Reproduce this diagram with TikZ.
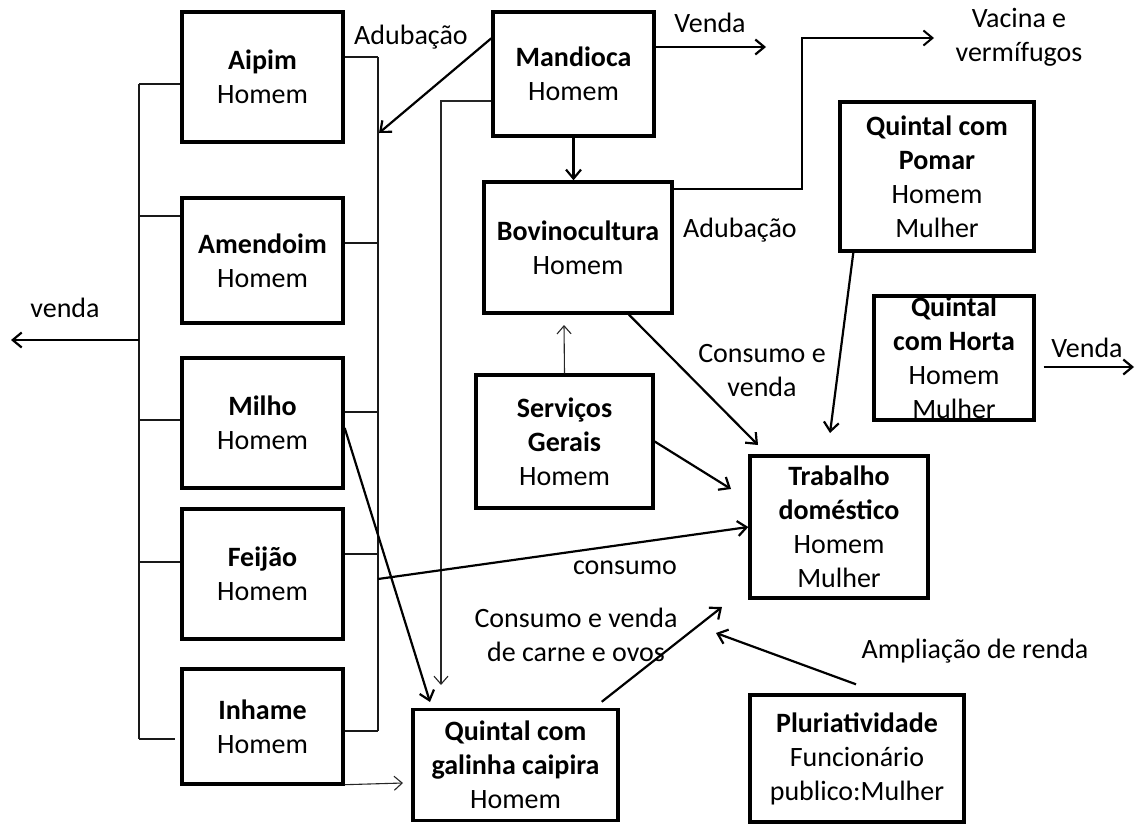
\documentclass[tikz,border=0pt]{standalone}
\usepackage{fontspec}
\setmainfont{Carlito}
\usetikzlibrary{arrows.meta,calc}
\tikzset{
  box/.style={draw, line width=3.4pt, inner sep=0pt, align=center,
    font=\fontsize{28}{34}\selectfont},
  txt/.style={inner sep=0pt, align=center, font=\fontsize{28}{34}\selectfont},
  arr/.style={line width=2.2pt, -{Straight Barb[length=9pt,width=15pt,line width=2.2pt]}},
  thinarr/.style={line width=1.1pt, draw=black!85, -{Straight Barb[length=8pt,width=14pt,line width=1.1pt]}},
  link/.style={line width=1.2pt, draw=black!90},
}
\begin{document}
\begin{tikzpicture}[x=1pt,y=-1pt]
\useasboundingbox (0,0) rectangle (1138,825);

% crop boxes on the left
\node[box, minimum width=161, minimum height=130] (aipim)    at (262.5,77)    {\textbf{Aipim}\\Homem};
\node[box, minimum width=161, minimum height=125] (amendoim) at (262.5,260.5)  {\textbf{Amendoim}\\Homem};
\node[box, minimum width=161, minimum height=130] (milho)    at (262.5,423)   {\textbf{Milho}\\Homem};
\node[box, minimum width=161, minimum height=130] (feijao)   at (262.5,574)   {\textbf{Feijão}\\Homem};
\node[box, minimum width=161, minimum height=115] (inhame)   at (262.5,726.5) {\textbf{Inhame}\\Homem};

% other activities
\node[box, minimum width=161, minimum height=124] (mandioca) at (573.5,74)   {\textbf{Mandioca}\\Homem};
\node[box, minimum width=188, minimum height=131] (bovino)   at (578,247.5)  {\textbf{Bovinocultura}\\Homem};
\node[box, minimum width=177, minimum height=133] (servicos) at (564.5,441.5) {\textbf{Serviços}\\\textbf{Gerais}\\Homem};
\node[box, minimum width=194, minimum height=149] (pomar)    at (937,176.5)  {\textbf{Quintal com}\\\textbf{Pomar}\\Homem\\Mulher};
\node[box, minimum width=160, minimum height=124] (horta)    at (954,358)    {};
\node[txt] (hortatxt) at (954,358) {\textbf{Quintal}\\\textbf{com Horta}\\Homem\\Mulher};
\node[box, minimum width=178, minimum height=142] (trabalho) at (839,527)    {\textbf{Trabalho}\\\textbf{doméstico}\\Homem\\Mulher};
\node[box, minimum width=205, minimum height=111] (galinha)  at (515.5,765)  {\textbf{Quintal com}\\\textbf{galinha caipira}\\Homem};
\node[box, minimum width=214, minimum height=127] (pluri)    at (857,758.5)  {\textbf{Pluriatividade}\\Funcionário\\publico:Mulher};

% left bracket: sale of the crops
\coordinate (lb1) at (139,84);
\coordinate (lb2) at (139,216);
\coordinate (lb3) at (139,420);
\coordinate (lb4) at (139,562);
\coordinate (lb5) at (139,739);
\coordinate (lbV) at (139,340);
\coordinate (vendaEnd) at (11,340);
\coordinate (inhEnd) at (175,739);
\draw[link] (lb1) -- (lb5);
\draw[link] (lb1) -- (lb1 -| aipim.west);
\draw[link] (lb2) -- (lb2 -| amendoim.west);
\draw[link] (lb3) -- (lb3 -| milho.west);
\draw[link] (lb4) -- (lb4 -| feijao.west);
\draw[link] (lb5) -- (inhEnd);
\draw[arr] (lbV) -- (vendaEnd);
\node[txt] (lvenda) at (65,308) {venda};

% right bracket: fertilising and consumption
\coordinate (rb1) at (378,57);
\coordinate (rb2) at (378,243);
\coordinate (rb3) at (378,412);
\coordinate (rb4) at (378,554);
\coordinate (rb5) at (378,731);
\coordinate (rbF) at (378,579);
\coordinate (adubEnd) at (379,133);
\draw[link] (rb1) -- (rb5);
\draw[link] (rb1 -| aipim.east) -- (rb1);
\draw[link] (rb2 -| amendoim.east) -- (rb2);
\draw[link] (rb3 -| milho.east) -- (rb3);
\draw[link] (rb4 -| feijao.east) -- (rb4);
\draw[link] (rb5 -| inhame.east) -- (rb5);
\node[txt] (ladub1) at (411,37) {Adubação};
\draw[arr] ($(mandioca.north west)+(0,28)$) -- (adubEnd);

% Mandioca links
\coordinate (mk) at (441,101);
\coordinate (mkEnd) at (441,685);
\draw[thinarr] (mandioca.west |- mk) -- (mk) -- (mkEnd);
\coordinate (vd) at (766,47);
\draw[arr] (mandioca.east |- vd) -- (vd);
\node[txt] (lvenda2) at (710,23) {Venda};
\draw[arr] (mandioca.south) -- (mandioca.south |- bovino.north);

% Bovinocultura links
\coordinate (vk1) at (802,189);
\coordinate (vk2) at (802,38);
\coordinate (vacEnd) at (934,38);
\draw[line width=2pt, -{Straight Barb[length=9pt,width=15pt,line width=2pt]}]
  (bovino.east |- vk1) -- (vk1) -- (vk2) -- (vacEnd);
\node[txt] (lvacina) at (1019,37) {Vacina e\\vermífugos};
\node[txt] (ladub2) at (740,230) {Adubação};
\coordinate (btEnd) at (758,445);
\draw[arr] ($(bovino.south)+(51,0)$) -- (btEnd);
\node[txt] (lconsvenda) at (762,371) {Consumo e\\venda};

% Serviços Gerais links
\coordinate (sbEnd) at (564,325);
\draw[thinarr] (servicos.north) -- (sbEnd);
\coordinate (stEnd) at (731,489);
\draw[arr] (servicos.east) -- (stEnd);

% Quintal links
\coordinate (ptEnd) at (830,433);
\draw[arr] ($(pomar.south west)+(15,0)$) -- (ptEnd);
\coordinate (hv) at (1134,367);
\draw[arr] ($(horta.east)+(8,9)$) -- (hv);
\node[txt] (lvenda3) at (1087,348) {Venda};

% Milho, Feijão and Inhame links
\coordinate (mgEnd) at (430,702);
\draw[arr] ($(milho.east)+(0,5)$) -- (mgEnd);
\draw[arr] (rbF) -- (trabalho.west);
\node[txt] (lconsumo) at (625,568) {consumo};
\coordinate (igEnd) at (403,783);
\draw[thinarr] ($(inhame.south east)+(0,-1)$) -- (igEnd);

% galinha and pluriatividade
\coordinate (gtEnd) at (722,607);
\draw[arr] ($(galinha.north east)+(-18,-6)$) -- (gtEnd);
\node[txt] (lcarne) at (576,635) {Consumo e venda\\de carne e ovos};
\coordinate (prEnd) at (716,633);
\draw[arr] ($(pluri.north)+(-1,-9)$) -- (prEnd);
\node[txt] (lrenda) at (975,651) {Ampliação de renda};
\end{tikzpicture}
\end{document}
